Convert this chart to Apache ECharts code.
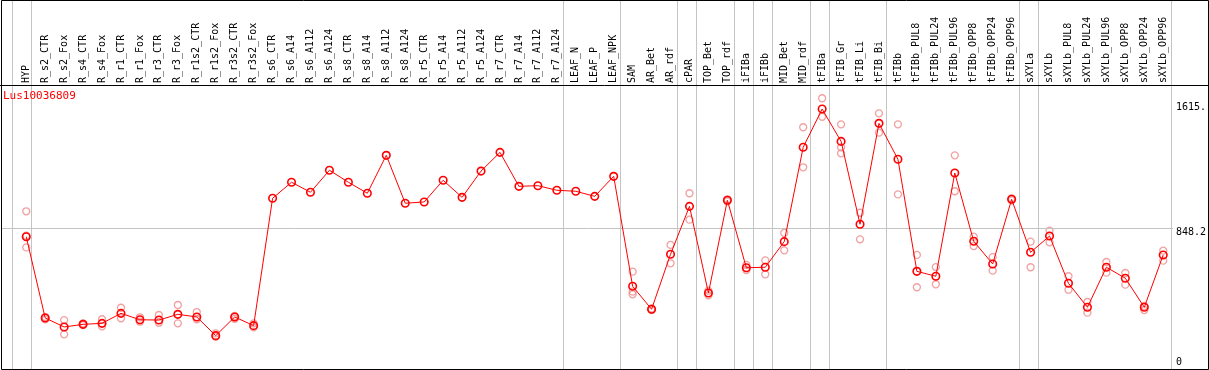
<!DOCTYPE html>
<html>
<head>
<meta charset="utf-8">
<script src="https://cdn.jsdelivr.net/npm/echarts@6/dist/echarts.min.js"></script>
<style>html,body{margin:0;padding:0;background:#fff}#c{width:1209px;height:370px}</style>
</head>
<body>
<div id="c"></div>
<script>
const categories = ["HYP","R_s2_CTR","R_s2_Fox","R_s4_CTR","R_s4_Fox","R_r1_CTR","R_r1_Fox","R_r3_CTR","R_r3_Fox","R_r1s2_CTR","R_r1s2_Fox","R_r3s2_CTR","R_r3s2_Fox","R_s6_CTR","R_s6_A14","R_s6_A112","R_s6_A124","R_s8_CTR","R_s8_A14","R_s8_A112","R_s8_A124","R_r5_CTR","R_r5_A14","R_r5_A112","R_r5_A124","R_r7_CTR","R_r7_A14","R_r7_A112","R_r7_A124","LEAF_N","LEAF_P","LEAF_NPK","SAM","AR_Bet","AR_rdf","cPAR","TOP_Bet","TOP_rdf","iFIBa","iFIBb","MID_Bet","MID_rdf","tFIBa","tFIB_Gr","tFIB_Li","tFIB_Bi","tFIBb","tFIBb_PUL8","tFIBb_PUL24","tFIBb_PUL96","tFIBb_OPP8","tFIBb_OPP24","tFIBb_OPP96","sXYLa","sXYLb","sXYLb_PUL8","sXYLb_PUL24","sXYLb_PUL96","sXYLb_OPP8","sXYLb_OPP24","sXYLb_OPP96"];
const meanValues = [794,299,244,260,266,327,288,286,321,305,191,305,252,1028,1126,1065,1199,1126,1059,1290,998,1006,1138,1034,1194,1308,1101,1105,1077,1071,1040,1162,492,352,687,979,451,1016,605,608,764,1339,1572,1375,870,1485,1266,583,553,1182,766,628,1022,699,798,510,364,608,541,364,683];
const rep1 = [949,305,286,265,291,361,303,317,378,335,205,311,266,null,null,null,null,null,null,null,null,null,null,null,null,null,null,null,null,null,null,null,581,357,744,1059,465,1022,622,650,817,1461,1638,1479,940,1546,1479,683,609,1290,794,670,1028,764,831,553,396,640,573,372,709];
const rep2 = [729,290,199,255,248,297,276,270,266,291,185,294,242,null,null,null,null,null,null,null,null,null,null,null,null,null,null,null,null,null,null,null,443,347,632,898,437,1010,591,565,711,1217,1525,1339,778,1428,1052,486,504,1071,737,587,1016,608,760,471,331,575,502,347,648];
const rep3 = [800,null,null,null,null,null,null,null,null,null,null,null,null,null,null,null,null,null,null,null,null,null,null,null,null,null,null,null,null,null,null,null,459,null,null,null,null,null,null,null,null,null,null,1302,null,null,null,null,null,null,null,null,null,null,null,null,null,null,null,null,null];
const groupEnds = [-1,0,28,31,34,35,37,38,39,41,42,45,52,53,60];
const yTickValues = [0, 848.2, 1615];
const yTickLabels = ["0", "848.2", "1615."];
const refLine = 848.2;
const geneName = "Lus10036809";

const FONT = "DejaVu Sans Mono";
const xMin = -1.279, xMax = 60.51;
const idx = categories.map((_, i) => i);
const pair = arr => arr.map((v, i) => [i, v]);
const yLabel = v => { const k = yTickValues.findIndex(t => Math.abs(t - v) < 1e-6); return k >= 0 ? yTickLabels[k] : ''; };
const repStyle = {color: 'rgba(0,0,0,0)', borderColor: '#ee8a8a', borderWidth: 1.3};

const chart = echarts.init(document.getElementById('c'), null, {renderer: 'canvas'});
chart.setOption({
  animation: false,
  backgroundColor: '#fff',
  title: {text: geneName, left: 3, top: 91, padding: 0,
    textStyle: {color: '#ff0000', fontFamily: FONT, fontSize: 11, fontWeight: 'normal'}},
  grid: [
    {left: 2, right: 33, top: 102, bottom: 3},
    {left: 2, right: 33, top: 0, bottom: 1}
  ],
  xAxis: [
    {type: 'value', gridIndex: 0, position: 'top', offset: 16, min: xMin, max: xMax,
      axisLine: {show: false}, axisTick: {show: false}, splitLine: {show: false},
      axisLabel: {customValues: idx, rotate: 90, margin: 3, fontFamily: FONT, fontSize: 10, color: '#000',
        formatter: v => categories[Math.round(v)] || ''}},
    {type: 'value', gridIndex: 1, min: xMin, max: xMax, show: false}
  ],
  yAxis: [
    {type: 'value', gridIndex: 0, position: 'right', offset: 0, min: 0, max: 1615,
      axisLine: {show: false}, axisTick: {show: false}, splitLine: {show: false},
      axisLabel: {customValues: [yTickValues[1], yTickValues[2]], verticalAlign: 'top', align: 'left', margin: 3,
        fontFamily: FONT, fontSize: 10, color: '#000', formatter: yLabel}},
    {type: 'value', gridIndex: 0, position: 'right', offset: 0, min: 0, max: 1615,
      axisLine: {show: false}, axisTick: {show: false}, splitLine: {show: false},
      axisLabel: {customValues: [yTickValues[0]], verticalAlign: 'bottom', align: 'left', margin: 3,
        fontFamily: FONT, fontSize: 10, color: '#000', formatter: yLabel}},
    {type: 'value', gridIndex: 1, min: 0, max: 1, show: false}
  ],
  series: [
    {type: 'line', xAxisIndex: 1, yAxisIndex: 2, data: [], silent: true,
      markLine: {silent: true, symbol: 'none', label: {show: false},
        lineStyle: {color: '#c4c4c4', width: 1, type: 'solid'},
        data: groupEnds.map(g => ({xAxis: g + 0.24}))}},
    {type: 'line', xAxisIndex: 0, yAxisIndex: 0, data: [], silent: true,
      markLine: {silent: true, symbol: 'none', label: {show: false},
        lineStyle: {color: '#c4c4c4', width: 1, type: 'solid'},
        data: [{yAxis: refLine}]}},
    {type: 'scatter', xAxisIndex: 0, yAxisIndex: 0, data: pair(rep1), symbol: 'circle', symbolSize: 7, itemStyle: repStyle, clip: false, z: 3},
    {type: 'scatter', xAxisIndex: 0, yAxisIndex: 0, data: pair(rep2), symbol: 'circle', symbolSize: 7, itemStyle: repStyle, clip: false, z: 3},
    {type: 'scatter', xAxisIndex: 0, yAxisIndex: 0, data: pair(rep3), symbol: 'circle', symbolSize: 7, itemStyle: repStyle, clip: false, z: 3},
    {type: 'line', xAxisIndex: 0, yAxisIndex: 0, data: pair(meanValues), symbol: 'circle', symbolSize: 7.5,
      showAllSymbol: true, clip: false, z: 5,
      lineStyle: {color: '#ff0000', width: 1},
      itemStyle: {color: 'rgba(0,0,0,0)', borderColor: '#ff0000', borderWidth: 1.6}}
  ],
  graphic: [
    {type: 'line', shape: {x1: 0, y1: 85.5, x2: 1209, y2: 85.5}, style: {stroke: '#000', lineWidth: 1}, z: 10},
    {type: 'rect', shape: {x: 1.5, y: 0.5, width: 1207, height: 369}, style: {fill: null, stroke: '#000', lineWidth: 1}, z: 10}
  ]
});
</script>
</body>
</html>
